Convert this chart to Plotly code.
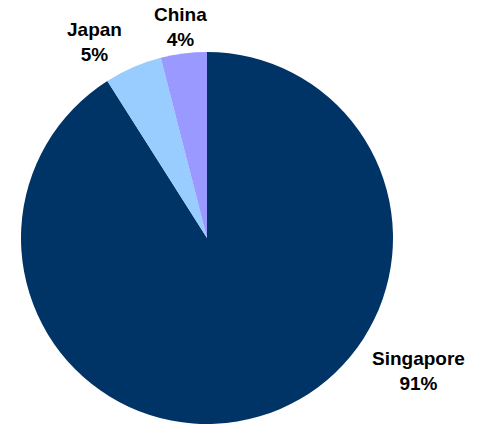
import plotly.graph_objects as go

# Share of total by country
countries = ["Singapore", "Japan", "China"]
shares = [91, 5, 4]
colors = ["#003366", "#99CCFF", "#9999FF"]

# Label anchor points (pixels in a 477x425 canvas)
label_px = {"Singapore": (418, 371), "Japan": (94, 42), "China": (180, 27)}

W, H = 477, 425
cx, cy, r = 207, 238, 186

fig = go.Figure(
    go.Pie(
        labels=countries,
        values=shares,
        marker=dict(colors=colors, line=dict(width=0)),
        sort=False,
        direction="clockwise",
        rotation=0,
        textinfo="none",
        hoverinfo="label+percent",
        domain=dict(x=[(cx - r) / W, (cx + r) / W], y=[1 - (cy + r) / H, 1 - (cy - r) / H]),
    )
)

total = sum(shares)
for name, val in zip(countries, shares):
    px, py = label_px[name]
    fig.add_annotation(
        x=px / W,
        y=1 - py / H,
        xref="paper",
        yref="paper",
        xanchor="center",
        yanchor="middle",
        text=f"{name}<br>{round(100 * val / total)}%",
        showarrow=False,
        font=dict(family="Liberation Sans, Arial, sans-serif", size=19, color="black", weight="bold"),
    )

fig.update_layout(
    width=W,
    height=H,
    margin=dict(l=0, r=0, t=0, b=0),
    paper_bgcolor="white",
    plot_bgcolor="white",
    showlegend=False,
)

fig.write_html("out.html")
